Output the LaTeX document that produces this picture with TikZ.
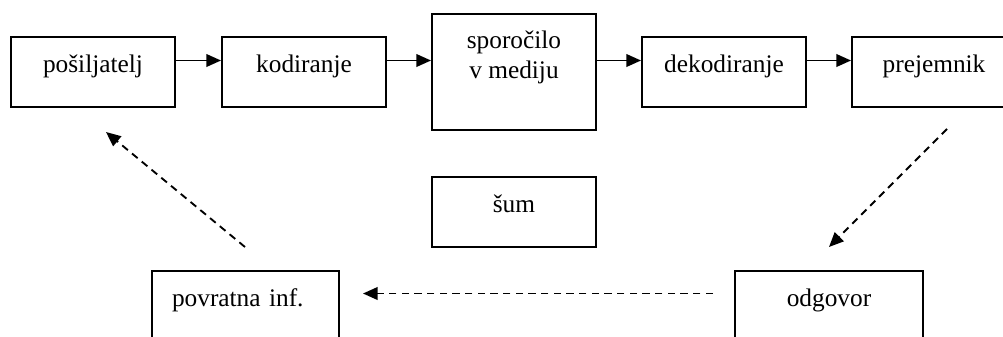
\documentclass[tikz,border=0pt]{standalone}
\usepackage{fontspec}
\setmainfont{Liberation Serif}
\usetikzlibrary{arrows.meta}
\begin{document}
\begin{tikzpicture}[x=0.75pt,y=-0.75pt,
  font=\fontsize{19pt}{22.5pt}\selectfont,
  box/.style={draw, line width=1.5pt, inner sep=0pt, minimum width=123pt, minimum height=52.5pt, text height=26.25pt, text depth=26.25pt},
  arr/.style={line width=1.3pt, -{Triangle[length=11pt,width=9.5pt]}},
  darr/.style={line width=1.4pt, dash pattern=on 5.5pt off 4pt, -{Triangle[length=11pt,width=9.5pt]}}]
\useasboundingbox (0,0) rectangle (1003,336);
\clip (0,0) rectangle (1003,336);
\node[box] (pos) at (93,72) {pošiljatelj};
\node[box] (kod) at (304,72) {kodiranje};
\node[box, minimum height=87pt, text depth=60.75pt] (spo) at (514,71.5) {\begin{tabular}[t]{@{}c@{}}sporočilo\\v mediju\end{tabular}};
\node[box] (dek) at (724,72) {dekodiranje};
\node[box] (pre) at (934,72) {prejemnik};
\node[box] (sum) at (514,212) {šum};
\node[box, minimum width=140.25pt, text width=110.25pt, inner xsep=15pt, align=left] (pov) at (245.5,306) {povratna inf.};
\node[box, minimum width=141pt] (odg) at (829,306) {odgovor};
\coordinate (ar) at (0,60.5);
\draw[arr] (pos.east |- ar) -- (kod.west |- ar);
\draw[arr] (kod.east |- ar) -- (spo.west |- ar);
\draw[arr] (spo.east |- ar) -- (dek.west |- ar);
\draw[arr] (dek.east |- ar) -- (pre.west |- ar);
\coordinate (c1) at (245,247);
\coordinate (c2) at (106,132);
\coordinate (c3) at (947,129);
\coordinate (c4) at (829,247);
\coordinate (c5) at (713,293.5);
\coordinate (c6) at (363,293.5);
\draw[darr] (c1) -- (c2);
\draw[darr] (c3) -- (c4);
\draw[darr] (c5) -- (c6);
\end{tikzpicture}
\end{document}
